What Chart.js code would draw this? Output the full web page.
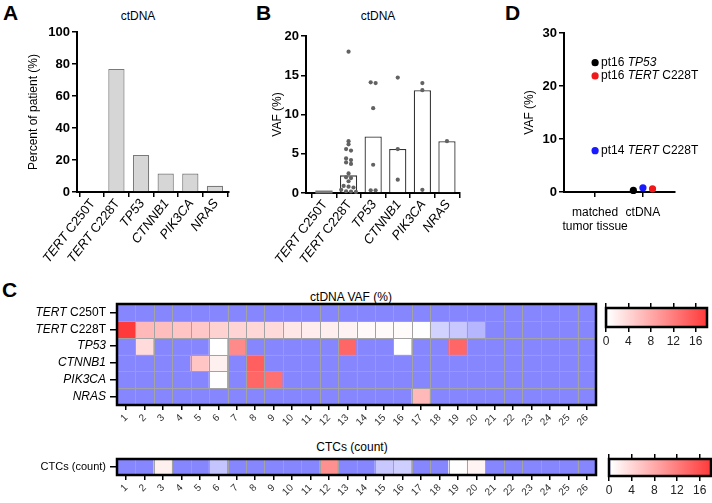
<!DOCTYPE html>
<html><head><meta charset="utf-8">
<script src="https://cdn.jsdelivr.net/npm/chart.js@4"></script>
<style>
html,body{margin:0;padding:0;background:#fff;}
#root{position:relative;width:712px;height:503px;overflow:hidden;font-family:"Liberation Sans",Arial,sans-serif;color:#000;}
canvas{position:absolute;}
.lbl{position:absolute;white-space:nowrap;line-height:14px;font-size:12px;text-align:center;width:200px;}
.letter{position:absolute;font-weight:bold;font-size:21px;line-height:21px;}
</style></head><body><div id="root">
<div class="letter" style="left:3px;top:2px">A</div>
<div class="letter" style="left:256px;top:2px">B</div>
<div class="letter" style="left:505px;top:2px">D</div>
<div class="letter" style="left:2px;top:279px">C</div>
<div class="lbl" style="left:38px;top:9px">ctDNA</div>
<div class="lbl" style="left:278px;top:9px">ctDNA</div>
<div class="lbl" style="left:251px;top:290px">ctDNA VAF (%)</div>
<div class="lbl" style="left:252px;top:440px">CTCs (count)</div>
<canvas id="cA" width="240" height="275" style="left:0;top:0"></canvas>
<canvas id="cB" width="232" height="275" style="left:240px;top:0"></canvas>
<canvas id="cD" width="242" height="250" style="left:470px;top:0"></canvas>
<canvas id="cH1" width="600" height="150" style="left:0;top:285px"></canvas>
<canvas id="cCB1" width="114" height="60" style="left:598px;top:290px"></canvas>
<canvas id="cH2" width="600" height="66" style="left:0;top:437px"></canvas>
<canvas id="cCB2" width="114" height="62" style="left:598px;top:441px"></canvas>
</div>
<script>
const FONT = '"Liberation Sans", Arial, sans-serif';
Chart.defaults.font.family = FONT;
Chart.defaults.color = '#000';
const GENES = new Set(['TERT', 'TP53', 'CTNNB1', 'PIK3CA', 'NRAS']);

// ---------------- DATA ----------------
const patients = ['1','2','3','4','5','6','7','8','9','10','11','12','13','14','15','16','17','18','19','20','21','22','23','24','25','26'];
const mutations = ['TERT C250T', 'TERT C228T', 'TP53', 'CTNNB1', 'PIK3CA', 'NRAS'];
// ctDNA VAF (%) per patient (0 = not detected)
const vafTERT_C250T = [0,0,0,0,0,0,0,0,0,0,0,0,0,0,0,0,0,0,0,0,0,0,0,0,0,0];
const vafTERT_C228T = [18.0,6.6,6.2,5.6,5.4,4.4,4.2,3.9,3.7,2.5,2.0,1.9,1.5,0.9,0.8,0.7,0.4,0.22,0.19,0.14,0,0,0,0,0,0];
const vafTP53       = [0,3.6,0,0,0,0.35,10.8,0,0,0,0,0,14.1,0,0,0.35,0,0,14.0,0,0,0,0,0,0,0];
const vafCTNNB1     = [0,0,0,0,5.6,1.7,0,14.7,0,0,0,0,0,0,0,0,0,0,0,0,0,0,0,0,0,0];
const vafPIK3CA     = [0,0,0,0,0,0.4,0,14.0,13.1,0,0,0,0,0,0,0,0,0,0,0,0,0,0,0,0,0];
const vafNRAS       = [0,0,0,0,0,0,0,0,0,0,0,0,0,0,0,0,6.6,0,0,0,0,0,0,0,0,0];
const ctcCount      = [0,0,1.7,0,0,0.18,0,0,0,0,0,10.3,0,0,0.19,0.21,0,0,0.4,1.4,0,0,0,0,0,0];
const colorbarTicks = [0, 4, 8, 12, 16];
const dCategories = [['matched', 'tumor tissue'], ['ctDNA']];
const dSeries = ['pt16 TP53', 'pt14 TERT C228T', 'pt16 TERT C228T'];
const dTissueVAF = [24.4, 7.8, 21.9];
const dCtDNAVAF = [0.3, 0.8, 0.6];
const dColors = ['#000000', '#1a1aff', '#f01818'];

const vafRows = [vafTERT_C250T, vafTERT_C228T, vafTP53, vafCTNNB1, vafPIK3CA, vafNRAS];

// ---------------- helpers ----------------
const CMAP = { low: [134, 134, 255], mid: [255, 255, 255], high: [255, 58, 58], midAt: 0.35, max: 18 };
const mix = (a, b, t) => a.map((c, i) => Math.round(c + (b[i] - c) * t));
const rgb = c => `rgb(${c[0]},${c[1]},${c[2]})`;
function vafColor(v) {
  if (v <= CMAP.midAt) return rgb(mix(CMAP.low, CMAP.mid, v / CMAP.midAt));
  return rgb(mix(CMAP.mid, CMAP.high, Math.min(1, (v - CMAP.midAt) / (CMAP.max - CMAP.midAt))));
}
function median(a) {
  const s = [...a].sort((x, y) => x - y), n = s.length;
  return n % 2 ? s[(n - 1) / 2] : (s[n / 2 - 1] + s[n / 2]) / 2;
}
function swarmOffsets(vals, gap, step, byValue) {
  const idx = vals.map((_, i) => i);
  if (byValue) idx.sort((a, b) => vals[b] - vals[a]);
  const off = new Array(vals.length).fill(0);
  let group = [];
  const flush = () => { group.forEach((k, j) => { off[k] = (j - (group.length - 1) / 2) * step; }); group = []; };
  idx.forEach(k => { if (group.length && Math.abs(vals[group[0]] - vals[k]) >= gap) flush(); group.push(k); });
  flush();
  return off;
}
const fontStr = (size, italic, bold) => `${italic ? 'italic ' : ''}${bold ? 'bold ' : ''}${size}px ${FONT}`;
function drawRich(ctx, text, x, y, size, align) {
  const words = text.split(' ');
  const parts = words.map((w, i) => ({ t: i < words.length - 1 ? w + ' ' : w, it: GENES.has(w) }));
  let total = 0;
  parts.forEach(p => { ctx.font = fontStr(size, p.it); p.w = ctx.measureText(p.t).width; total += p.w; });
  let cx = align === 'right' ? x - total : x;
  ctx.textAlign = 'left';
  parts.forEach(p => { ctx.font = fontStr(size, p.it); ctx.fillText(p.t, cx, y); cx += p.w; });
}

const common = {
  responsive: false, animation: false, devicePixelRatio: 1, events: [],
  plugins: { legend: { display: false }, tooltip: { enabled: false }, title: { display: false } }
};
const tickGrid = { drawOnChartArea: false, drawTicks: true, tickLength: 5, color: '#000', lineWidth: 1.5 };
const axisBorder = { color: '#000', width: 2 };
const boldTick = { size: 13, weight: 'bold', family: FONT };

function richXPlugin(labels, size) {
  return {
    id: 'richX',
    afterDraw(chart) {
      const s = chart.scales.x, ctx = chart.ctx;
      ctx.save(); ctx.fillStyle = '#000'; ctx.textBaseline = 'middle';
      labels.forEach((lab, i) => {
        ctx.save();
        ctx.translate(s.getPixelForValue(i) + 1, s.top + 9);
        ctx.rotate(-52 * Math.PI / 180);
        drawRich(ctx, lab, 0, 0, size, 'right');
        ctx.restore();
      });
      ctx.restore();
    }
  };
}
const zeroLinePlugin = {
  id: 'zeroLine',
  afterDatasetsDraw(chart) {
    const ctx = chart.ctx;
    chart.data.datasets.forEach((ds, di) => {
      if (!ds.zeroLine) return;
      chart.getDatasetMeta(di).data.forEach((el, i) => {
        if (ds.data[i].y !== 0) return;
        ctx.save(); ctx.strokeStyle = '#7a7a7a'; ctx.lineWidth = 3;
        ctx.beginPath(); ctx.moveTo(el.x - el.width / 2, el.y - 1); ctx.lineTo(el.x + el.width / 2, el.y - 1); ctx.stroke();
        ctx.restore();
      });
    });
  }
};

// ---------------- Panel A ----------------
const pctPatients = vafRows.map(r => r.filter(v => v > 0).length / r.length * 100);
new Chart(document.getElementById('cA'), {
  type: 'bar',
  data: { datasets: [{
    data: mutations.map((m, i) => ({ x: i, y: pctPatients[i] })),
    backgroundColor: '#d6d6d6', borderColor: '#7a7a7a', borderWidth: 1.2,
    barPercentage: 0.66, categoryPercentage: 1
  }] },
  options: { ...common,
    layout: { padding: { top: 32, right: 11, left: 0, bottom: 0 } },
    scales: {
      x: { type: 'linear', min: -0.6, max: 5.57, offset: false,
        afterBuildTicks: s => { s.ticks = mutations.map((_, i) => ({ value: i })); },
        ticks: { display: false }, grid: tickGrid, border: axisBorder,
        afterFit: s => { s.height = 83; } },
      y: { min: 0, max: 100,
        ticks: { stepSize: 20, font: boldTick, color: '#000', padding: 2 },
        grid: tickGrid, border: axisBorder,
        title: { display: true, text: 'Percent of patient (%)', font: { size: 12 }, color: '#000', padding: { top: 26.8, bottom: 0 } },
        afterFit: s => { s.width = 77; } }
    }
  },
  plugins: [richXPlugin(mutations, 13)]
});

// ---------------- Panel B ----------------
const dotsB = vafRows.map(r => r.filter(v => v > 0));
const medB = dotsB.map(d => d.length ? median(d) : 0);
const dotPoints = [];
dotsB.forEach((vals, i) => {
  const off = swarmOffsets(vals, 0.35, 0.2, true);
  vals.forEach((v, k) => dotPoints.push({ x: i + off[k], y: v }));
});
new Chart(document.getElementById('cB'), {
  type: 'bar',
  data: { datasets: [
    { type: 'bar', data: medB.map((v, i) => ({ x: i, y: v })), backgroundColor: '#ffffff',
      borderColor: '#333333', borderWidth: 1.3, barPercentage: 0.7, categoryPercentage: 1, zeroLine: true, order: 2 },
    { type: 'scatter', data: dotPoints, backgroundColor: '#626262', borderWidth: 0, pointRadius: 2.1, clip: false, order: 1 }
  ] },
  options: { ...common,
    layout: { padding: { top: 36, right: 12, left: 0, bottom: 0 } },
    scales: {
      x: { type: 'linear', min: -0.73, max: 5.53, offset: false,
        afterBuildTicks: s => { s.ticks = mutations.map((_, i) => ({ value: i })); },
        ticks: { display: false }, grid: tickGrid, border: axisBorder,
        afterFit: s => { s.height = 82; } },
      y: { min: 0, max: 20,
        ticks: { stepSize: 5, font: boldTick, color: '#000', padding: 2 },
        grid: tickGrid, border: axisBorder,
        title: { display: true, text: 'VAF (%)', font: { size: 12 }, color: '#000', padding: { top: 30.8, bottom: 0 } },
        afterFit: s => { s.width = 66; } }
    }
  },
  plugins: [richXPlugin(mutations, 13), zeroLinePlugin]
});

// ---------------- Panel D ----------------
const dOffTissue = swarmOffsets(dTissueVAF, 1.0, 0.2, false);
const dOffCt = swarmOffsets(dCtDNAVAF, 1.0, 0.2, false);
const pointLabelPlugin = {
  id: 'pointLabels',
  afterDatasetsDraw(chart) {
    const ctx = chart.ctx;
    ctx.save(); ctx.fillStyle = '#000'; ctx.textBaseline = 'middle';
    chart.data.datasets.forEach((ds, di) => {
      const el = chart.getDatasetMeta(di).data[0];
      drawRich(ctx, ds.label, el.x + 6, el.y, 12, 'left');
    });
    ctx.restore();
  }
};
new Chart(document.getElementById('cD'), {
  type: 'scatter',
  data: { datasets: dSeries.map((s, k) => ({
    label: s,
    data: [{ x: 0 + dOffTissue[k], y: dTissueVAF[k] }, { x: 1 + dOffCt[k], y: dCtDNAVAF[k] }],
    backgroundColor: dColors[k], borderWidth: 0, pointRadius: 3.6, clip: false
  })) },
  options: { ...common,
    layout: { padding: { top: 33, right: 37, left: 0, bottom: 0 } },
    scales: {
      x: { type: 'linear', min: -0.65, max: 1.67,
        afterBuildTicks: s => { s.ticks = dCategories.map((_, i) => ({ value: i })); },
        ticks: { callback: v => dCategories[v], font: { size: 12 }, color: '#000', padding: 8 },
        grid: tickGrid, border: axisBorder,
        afterFit: s => { s.height = 58; } },
      y: { min: 0, max: 30,
        ticks: { stepSize: 10, font: boldTick, color: '#000', padding: 2 },
        grid: tickGrid, border: axisBorder,
        title: { display: true, text: 'VAF (%)', font: { size: 12 }, color: '#000', padding: { top: 52.8, bottom: 0 } },
        afterFit: s => { s.width = 94; } }
    }
  },
  plugins: [pointLabelPlugin]
});

// ---------------- Panel C heatmaps ----------------
function heatDecor(rowLabels, labelSize) {
  return {
    id: 'heatDecor',
    afterDatasetsDraw(chart) {
      const { ctx, chartArea: a, scales: { x, y } } = chart;
      ctx.save();
      ctx.strokeStyle = '#a3a3a3'; ctx.lineWidth = 1; ctx.beginPath();
      for (let i = 1; i < x.getLabels().length; i++) {
        const px = Math.round(x.getPixelForValue(i - 0.5)) + 0.5;
        ctx.moveTo(px, a.top); ctx.lineTo(px, a.bottom);
      }
      for (let r = 1; r < rowLabels.length; r++) {
        const py = Math.round(y.getPixelForValue(r)) + 0.5;
        ctx.moveTo(a.left, py); ctx.lineTo(a.right, py);
      }
      ctx.stroke();
      ctx.strokeStyle = '#000'; ctx.lineWidth = 2.5;
      ctx.strokeRect(a.left, a.top, a.right - a.left, a.bottom - a.top);
      ctx.fillStyle = '#000'; ctx.textBaseline = 'middle';
      rowLabels.forEach((lab, r) => drawRich(ctx, lab, a.left - 11, y.getPixelForValue(r + 0.5), labelSize, 'right'));
      ctx.restore();
    }
  };
}
function makeHeatmap(id, rowLabels, rows, lay) {
  return new Chart(document.getElementById(id), {
    type: 'bar',
    data: { labels: patients, datasets: rows.map((vals, r) => ({
      data: vals.map(() => [r, r + 1]), backgroundColor: vals.map(vafColor),
      borderWidth: 0, grouped: false, barPercentage: 1, categoryPercentage: 1
    })) },
    options: { ...common,
      layout: { padding: { top: lay.top, right: lay.right, left: 0, bottom: 0 } },
      scales: {
        x: { type: 'category', offset: true,
          grid: { ...tickGrid, offset: false, tickLength: 5 }, border: { display: false },
          ticks: { autoSkip: false, minRotation: 45, maxRotation: 45, font: { size: 10 }, color: '#333', padding: 2 },
          afterFit: s => { s.height = lay.xHeight; } },
        y: { type: 'linear', min: 0, max: rows.length, reverse: true,
          afterBuildTicks: s => { s.ticks = rows.map((_, r) => ({ value: r + 0.5 })); },
          ticks: { display: false }, grid: { ...tickGrid, tickLength: 7 }, border: { display: false },
          afterFit: s => { s.width = lay.yWidth; } }
      }
    },
    plugins: [heatDecor(rowLabels, lay.labelSize)]
  });
}
makeHeatmap('cH1', mutations, vafRows, { top: 19, right: 4, xHeight: 30, yWidth: 117, labelSize: 12 });
makeHeatmap('cH2', ['CTCs (count)'], [ctcCount], { top: 22, right: 4, xHeight: 28, yWidth: 117, labelSize: 11 });

function colorbarPlugin() {
  return {
    id: 'cbar',
    beforeDatasetsDraw(chart) {
      const { ctx, chartArea: a, scales: { x } } = chart;
      const g = ctx.createLinearGradient(x.getPixelForValue(0), 0, x.getPixelForValue(CMAP.max), 0);
      g.addColorStop(0, rgb(CMAP.low));
      g.addColorStop(CMAP.midAt / CMAP.max, rgb(CMAP.mid));
      g.addColorStop(1, rgb(CMAP.high));
      ctx.save(); ctx.fillStyle = g; ctx.fillRect(a.left, a.top, a.right - a.left, a.bottom - a.top);
      ctx.strokeStyle = '#000'; ctx.lineWidth = 2.5; ctx.strokeRect(a.left, a.top, a.right - a.left, a.bottom - a.top);
      ctx.restore();
    }
  };
}
function makeColorbar(id, lay) {
  const tb = s => { s.ticks = colorbarTicks.map(v => ({ value: v })); };
  return new Chart(document.getElementById(id), {
    type: 'scatter',
    data: { datasets: [] },
    options: { ...common,
      layout: { padding: { top: 0, right: lay.right, left: lay.left, bottom: 0 } },
      scales: {
        x: { type: 'linear', position: 'bottom', min: 0, max: CMAP.max, afterBuildTicks: tb,
          ticks: { font: { size: 12 }, color: '#222', padding: 2 },
          grid: tickGrid, border: { display: false }, afterFit: s => { s.height = lay.bottomH; } },
        x2: { type: 'linear', axis: 'x', position: 'top', min: 0, max: CMAP.max, afterBuildTicks: tb,
          ticks: { display: false }, grid: tickGrid, border: { display: false },
          afterFit: s => { s.height = lay.topH; } },
        y: { display: false, min: 0, max: 1 }
      }
    },
    plugins: [colorbarPlugin()]
  });
}
makeColorbar('cCB1', { left: 8, right: 5, topH: 18, bottomH: 23 });
makeColorbar('cCB2', { left: 11, right: 1, topH: 18, bottomH: 27 });
</script>
</body></html>
